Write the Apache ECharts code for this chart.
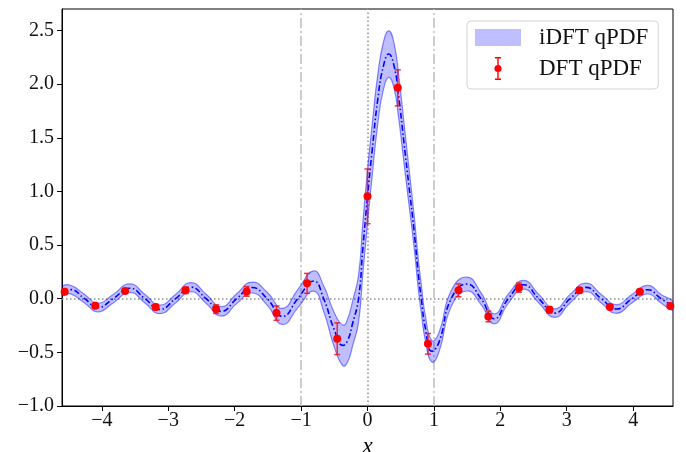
<!doctype html>
<html lang="en">
  <head>
    <meta charset="UTF-8" />
    <title>qPDF</title>
    <script src="https://cdn.jsdelivr.net/npm/echarts/dist/echarts.min.js"></script>
  </head>
  <body style="margin: 0; padding: 0; background: #fff">
    <div class="main" style="width: 686px; height: 452px"></div>
  </body>
  <script>
    // iDFT curve (centre + half width of band)
    const curveX = [-4.6, -4.47, -4.26, -4.06, -3.83, -3.58, -3.35, -3.13, -2.89, -2.66, -2.43, -2.2, -1.97, -1.74, -1.51, -1.28, -1.05, -0.81, -0.66, -0.5, -0.37, -0.3, -0.22, -0.135, -0.07, 0.0, 0.07, 0.155, 0.24, 0.32, 0.4, 0.47, 0.55, 0.62, 0.7, 0.77, 0.81, 0.87, 0.97, 1.08, 1.26, 1.5, 1.71, 1.91, 2.12, 2.35, 2.58, 2.82, 3.05, 3.29, 3.52, 3.75, 3.98, 4.22, 4.42, 4.6];
    const curveY = [0.072, 0.085, 0.0, -0.082, 0.0, 0.098, 0.0, -0.1, 0.0, 0.108, 0.0, -0.118, 0.0, 0.105, 0.0, -0.165, 0.0, 0.165, 0.0, -0.29, -0.435, -0.39, -0.22, 0.0, 0.47, 0.95, 1.38, 1.86, 2.17, 2.28, 2.17, 1.88, 1.45, 1.07, 0.64, 0.2, 0.0, -0.27, -0.49, -0.4, 0.0, 0.137, 0.0, -0.187, 0.0, 0.13, 0.0, -0.134, 0.0, 0.106, 0.0, -0.096, 0.0, 0.084, 0.0, -0.068];
    const curveErr = [0.04, 0.04, 0.04, 0.04, 0.04, 0.04, 0.04, 0.04, 0.04, 0.042, 0.042, 0.044, 0.046, 0.05, 0.06, 0.075, 0.085, 0.095, 0.12, 0.16, 0.19, 0.2, 0.21, 0.22, 0.24, 0.25, 0.24, 0.23, 0.22, 0.217, 0.21, 0.2, 0.19, 0.17, 0.15, 0.14, 0.13, 0.115, 0.1, 0.09, 0.075, 0.065, 0.055, 0.047, 0.043, 0.04, 0.04, 0.04, 0.04, 0.04, 0.04, 0.04, 0.04, 0.04, 0.04, 0.04];

    // DFT points with error bars
    const pointX = [-4.56, -4.1, -3.65, -3.19, -2.74, -2.28, -1.82, -1.37, -0.91, -0.456, 0, 0.456, 0.91, 1.37, 1.82, 2.28, 2.74, 3.19, 3.65, 4.1, 4.56];
    const pointY = [0.065, -0.065, 0.072, -0.078, 0.078, -0.097, 0.068, -0.134, 0.143, -0.373, 0.954, 1.965, -0.42, 0.078, -0.165, 0.103, -0.103, 0.078, -0.078, 0.065, -0.068];
    const pointErr = [0.02, 0.02, 0.02, 0.025, 0.03, 0.04, 0.045, 0.067, 0.093, 0.148, 0.255, 0.168, 0.096, 0.06, 0.05, 0.043, 0.03, 0.025, 0.02, 0.02, 0.02];

    const xTicks = [-4, -3, -2, -1, 0, 1, 2, 3, 4];
    const yTicks = [-1, -0.5, 0, 0.5, 1, 1.5, 2, 2.5];

    const serif = "Liberation Serif";
    const minus = (s) => s.replace("-", "\u2212");

    const myChart = echarts.init(document.querySelector(".main"));

    const bandRows = curveX.map((x, i) => [x, curveY[i] - curveErr[i], curveY[i] + curveErr[i]]);

    const option = {
      animation: false,
      backgroundColor: "#fff",
      grid: {
        left: 62,
        right: 13,
        top: 9,
        bottom: 46,
        outerBoundsMode: "none",
        show: true,
        borderColor: "#000",
        borderWidth: 1,
      },
      xAxis: {
        type: "value",
        min: -4.6,
        max: 4.6,
        name: "x",
        nameLocation: "middle",
        nameGap: 15,
        nameTextStyle: { fontFamily: serif, fontStyle: "italic", fontSize: 23, color: "#000" },
        splitLine: { show: false },
        axisLine: { onZero: false, lineStyle: { color: "#000", width: 1 } },
        axisTick: { customValues: xTicks, length: 5, lineStyle: { color: "#000" } },
        axisLabel: {
          customValues: xTicks,
          margin: 5,
          fontFamily: serif,
          fontSize: 20,
          color: "#111",
          formatter: (v) => minus(String(v)),
        },
      },
      yAxis: {
        type: "value",
        min: -1,
        max: 2.7,
        splitLine: { show: false },
        axisLine: { onZero: false, lineStyle: { color: "#000", width: 1 } },
        axisTick: { customValues: yTicks, length: 5, lineStyle: { color: "#000" } },
        axisLabel: {
          customValues: yTicks,
          margin: 8,
          fontFamily: serif,
          fontSize: 20,
          color: "#111",
          formatter: (v) => minus(v.toFixed(1)),
        },
      },
      legend: {
        left: 467,
        top: 21,
        orient: "vertical",
        padding: [5, 10, 9, 8],
        itemGap: 8,
        itemWidth: 59,
        itemHeight: 23,
        borderColor: "#d4d4d4",
        borderWidth: 1,
        borderRadius: 4,
        backgroundColor: "rgba(255,255,255,0.85)",
        textStyle: { fontFamily: serif, fontSize: 23, color: "#111" },
        data: [
          {
            name: "iDFT qPDF",
            icon: "path://M0 0L0 0M59 23L59 23M0 3L46 3L46 20L0 20Z",
            itemStyle: { color: "rgba(0,0,255,0.25)", borderWidth: 0 },
          },
          {
            name: "DFT qPDF",
            icon: "path://M0 0L0 0M59 23L59 23M22.3 0L23.7 0L23.7 23L22.3 23ZM20 0L26 0L26 1.4L20 1.4ZM20 21.6L26 21.6L26 23L20 23ZM26.6 11.5A3.6 3.6 0 1 1 19.4 11.5A3.6 3.6 0 1 1 26.6 11.5Z",
            itemStyle: { color: "#ff0000", borderWidth: 0 },
          },
        ],
      },
      series: [
        {
          // band between lower and upper edge
          name: "iDFT qPDF",
          type: "custom",
          z: 2,
          clip: true,
          itemStyle: { color: "rgba(0,0,255,0.25)" },
          encode: { x: 0, y: [1, 2] },
          data: bandRows,
          renderItem: function (params, api) {
            if (params.dataIndex !== 0) return;
            const upper = bandRows.map((r) => api.coord([r[0], r[2]]));
            const lower = bandRows.map((r) => api.coord([r[0], r[1]])).reverse();
            return {
              type: "polygon",
              shape: { points: upper.concat(lower), smooth: 0.5 },
              style: { fill: "rgba(0,0,255,0.25)", stroke: "rgba(0,0,255,0.45)", lineWidth: 1.2 },
            };
          },
        },
        {
          name: "centre",
          type: "line",
          z: 3,
          smooth: 0.5,
          symbol: "none",
          lineStyle: { color: "#0000ff", width: 1.6, type: [6, 2.5, 1.5, 2.5] },
          data: curveX.map((x, i) => [x, curveY[i]]),
          markLine: {
            z: 1,
            silent: true,
            symbol: "none",
            label: { show: false },
            data: [
              { xAxis: -1, lineStyle: { color: "#bdbdbd", width: 1.5, type: [10, 3, 2, 3] } },
              { xAxis: 1, lineStyle: { color: "#bdbdbd", width: 1.5, type: [10, 3, 2, 3] } },
              { xAxis: 0, lineStyle: { color: "#8c8c8c", width: 1.5, type: [1.5, 2.5] } },
              { yAxis: 0, lineStyle: { color: "#8c8c8c", width: 1.5, type: [1.5, 2.5] } },
            ],
          },
        },
        {
          name: "errbars",
          type: "custom",
          z: 4,
          encode: { x: 0, y: 1 },
          data: pointX.map((x, i) => [x, pointY[i], pointErr[i]]),
          renderItem: function (params, api) {
            const x = api.value(0);
            const y = api.value(1);
            const e = api.value(2);
            const top = api.coord([x, y + e]);
            const bot = api.coord([x, y - e]);
            const st = { stroke: "rgba(235,20,30,0.85)", lineWidth: 1.5 };
            return {
              type: "group",
              children: [
                { type: "line", shape: { x1: top[0], y1: top[1], x2: bot[0], y2: bot[1] }, style: st },
                { type: "line", shape: { x1: top[0] - 3, y1: top[1], x2: top[0] + 3, y2: top[1] }, style: st },
                { type: "line", shape: { x1: bot[0] - 3, y1: bot[1], x2: bot[0] + 3, y2: bot[1] }, style: st },
              ],
            };
          },
        },
        {
          name: "DFT qPDF",
          type: "scatter",
          z: 5,
          symbolSize: 8,
          itemStyle: { color: "#ff0000", opacity: 1 },
          data: pointX.map((x, i) => [x, pointY[i]]),
        },
      ],
    };

    myChart.setOption(option);
  </script>
</html>
